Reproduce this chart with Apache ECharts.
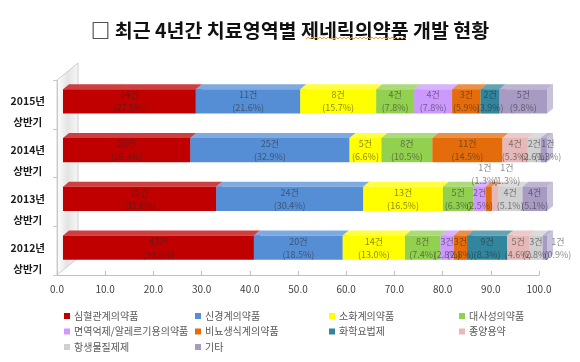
<!DOCTYPE html>
<html><head><meta charset="utf-8">
<script src="https://cdn.jsdelivr.net/npm/echarts@6/dist/echarts.min.js"></script>
<style>html,body{margin:0;padding:0;background:#fff}#c{width:580px;height:362px}</style>
</head><body><div id="c"></div>
<script>
// ---- data ----
const categories = ['2015년\n상반기', '2014년\n상반기', '2013년\n상반기', '2012년\n상반기'];
const seriesNames = ['심혈관계의약품', '신경계의약품', '소화계의약품', '대사성의약품', '면역억제/알레르기용의약품',
  '비뇨생식계의약품', '화학요법제', '종양용약', '항생물질제제', '기타'];
const xTicks = [0, 10, 20, 30, 40, 50, 60, 70, 80, 90, 100];

const countCardio  = [14, 20, 25, 43];
const countNeuro   = [11, 25, 24, 20];
const countDigest  = [8, 5, 13, 14];
const countMetab   = [4, 8, 5, 8];
const countImmune  = [4, 0, 2, 3];
const countUro     = [3, 11, 1, 3];
const countChemo   = [2, 0, 0, 9];
const countOnco    = [0, 4, 1, 5];
const countAntibio = [0, 2, 4, 3];
const countOther   = [5, 1, 4, 1];

const pctCardio  = [27.5, 26.3, 31.6, 39.8];
const pctNeuro   = [21.6, 32.9, 30.4, 18.5];
const pctDigest  = [15.7, 6.6, 16.5, 13.0];
const pctMetab   = [7.8, 10.5, 6.3, 7.4];
const pctImmune  = [7.8, 0, 2.5, 2.8];
const pctUro     = [5.9, 14.5, 1.3, 2.8];
const pctChemo   = [3.9, 0, 0, 8.3];
const pctOnco    = [0, 5.3, 1.3, 4.6];
const pctAntibio = [0, 2.6, 5.1, 2.8];
const pctOther   = [9.8, 1.3, 5.1, 0.9];

// ---- styles ----
const colors = ['#C00000', '#558ED5', '#FFFF00', '#92D050', '#CC99FF', '#E46C0A', '#31859C', '#E6B9B8', '#D0D0D0', '#A79BC4'];
// label nudges (series index -> category index -> [dx, dy])
const labelNudge = { 5: { 2: [-4, -25] }, 7: { 2: [12, -25] }, 9: { 1: [4, 0], 3: [13, 0] } };

const allCounts = [countCardio, countNeuro, countDigest, countMetab, countImmune, countUro, countChemo, countOnco, countAntibio, countOther];
const allPcts = [pctCardio, pctNeuro, pctDigest, pctMetab, pctImmune, pctUro, pctChemo, pctOnco, pctAntibio, pctOther];

const totals = categories.map((_, c) => allCounts.reduce((s, arr) => s + arr[c], 0));
const cum = categories.map(() => 0);
const customSeries = seriesNames.map((name, si) => {
  const data = [];
  categories.forEach((_, c) => {
    const v = allCounts[si][c] / totals[c] * 100;
    const start = cum[c];
    cum[c] += v;
    if (allCounts[si][c] > 0) data.push([start, cum[c], c, allCounts[si][c], allPcts[si][c]]);
  });
  const col = colors[si];
  const topCol = echarts.color.lift(col, 0.25);
  const sideCol = echarts.color.lift(col, 0.38);
  return {
    type: 'custom', name, xAxisIndex: 0, yAxisIndex: 0, data,
    itemStyle: { color: col },
    encode: { x: [0, 1], y: 2 },
    renderItem(params, api) {
      const s = api.value(0), e = api.value(1), c = api.value(2);
      const cnt = api.value(3), pct = api.value(4);
      const p0 = api.coord([s, c]), p1 = api.coord([e, c]);
      const band = api.size([0, 1])[1];
      const h = band * 0.5;
      const y0 = p0[1] - h / 2, x0 = p0[0], x1 = p1[0];
      const dx = 6, dy = 5;
      const nudge = (labelNudge[si] && labelNudge[si][c]) || [0, 0];
      return {
        type: 'group',
        children: [
          { type: 'polygon', shape: { points: [[x1, y0], [x1 + dx, y0 - dy], [x1 + dx, y0 + h - dy], [x1, y0 + h]] }, style: { fill: sideCol } },
          { type: 'polygon', shape: { points: [[x0, y0], [x1, y0], [x1 + dx, y0 - dy], [x0 + dx, y0 - dy]] }, style: { fill: topCol } },
          { type: 'rect', shape: { x: x0, y: y0, width: x1 - x0, height: h }, style: { fill: col } },
          { type: 'text', z2: 100, style: {
              text: cnt + '건\n(' + pct.toFixed(1) + '%)',
              x: (x0 + x1) / 2 + nudge[0], y: p0[1] + nudge[1],
              align: 'center', verticalAlign: 'middle',
              fontSize: 9, lineHeight: 13, fontFamily: 'Noto Sans CJK KR',
              fill: 'rgba(40,40,40,0.55)' } }
        ]
      };
    }
  };
});

// dummy series to give grid 1 its axes
customSeries.push({ type: 'scatter', xAxisIndex: 1, yAxisIndex: 1, data: [], silent: true });

// wavy underline points
const wave = [];
for (let x = 306; x <= 406; x += 2) wave.push([x, 38 + ((x / 2) % 2 ? 1 : -1)]);

const legendCols = [[0, 4, 8], [1, 5, 9], [2, 6], [3, 7]];
const legendLefts = [59, 190, 324, 454];
const legends = legendCols.map((idxs, i) => ({
  data: idxs.map(k => seriesNames[k]),
  orient: 'vertical', left: legendLefts[i], top: 305,
  itemWidth: 6, itemHeight: 6, itemGap: 3.5, icon: 'rect',
  textStyle: { fontSize: 10, lineHeight: 12, color: '#595959', fontFamily: 'Noto Sans CJK KR', padding: [0, 0, 0, -1] }
}));

const chart = echarts.init(document.getElementById('c'), null, { renderer: 'canvas' });
chart.setOption({
  animation: false,
  backgroundColor: '#fff',
  color: colors,
  title: {
    text: '□ 최근 4년간 치료영역별 제네릭의약품 개발 현황',
    left: 'center', top: 16,
    textStyle: { fontSize: 19.5, fontWeight: 'bold', color: '#111', fontFamily: 'Noto Sans CJK KR' }
  },
  legend: legends,
  grid: [
    { left: 63, width: 484, top: 77, height: 195 },
    { left: 57, width: 482, top: 80, height: 195 }
  ],
  xAxis: [
    { gridIndex: 0, type: 'value', min: 0, max: 100, show: false },
    { gridIndex: 1, type: 'value', min: 0, max: 100, interval: 10,
      axisLine: { show: true, lineStyle: { color: '#BFBFBF' } },
      axisTick: { show: true, inside: true, length: 4, lineStyle: { color: '#BFBFBF' } },
      splitLine: { show: false },
      axisLabel: { margin: 9, fontSize: 10, color: '#404040', fontFamily: 'Noto Sans CJK KR', formatter: v => v.toFixed(1) } }
  ],
  yAxis: [
    { gridIndex: 0, type: 'category', data: categories, inverse: true,
      axisLine: { show: false }, axisTick: { show: false },
      axisLabel: { margin: 18, padding: [21, 0, 0, 0],
        formatter: v => v.split('\n').map(t => '{a|' + t + '}').join('\n'),
        rich: { a: { fontSize: 10.5, fontWeight: 'bold', lineHeight: 21, color: '#1a1a1a', fontFamily: 'Noto Sans CJK KR', align: 'center' } } } },
    { gridIndex: 1, type: 'category', data: categories, inverse: true,
      axisLine: { show: true, lineStyle: { color: '#C8C8C8' } },
      axisTick: { show: true, length: 4, lineStyle: { color: '#C8C8C8' } },
      axisLabel: { show: false } }
  ],
  graphic: [
    { type: 'polygon', z: 0, shape: { points: [[57, 80], [78, 63], [78, 258], [57, 275]] },
      style: { fill: new echarts.graphic.LinearGradient(0, 0, 1, 0, [{ offset: 0, color: '#FFFFFF' }, { offset: 0.5, color: '#E4E4E4' }, { offset: 1, color: '#F7F7F7' }]), stroke: '#D0D0D0', lineWidth: 1 } },
    { type: 'polyline', z: 10, shape: { points: wave }, style: { stroke: '#F0A030', lineWidth: 1, fill: null } }
  ],
  series: customSeries
});
</script>
</body></html>
